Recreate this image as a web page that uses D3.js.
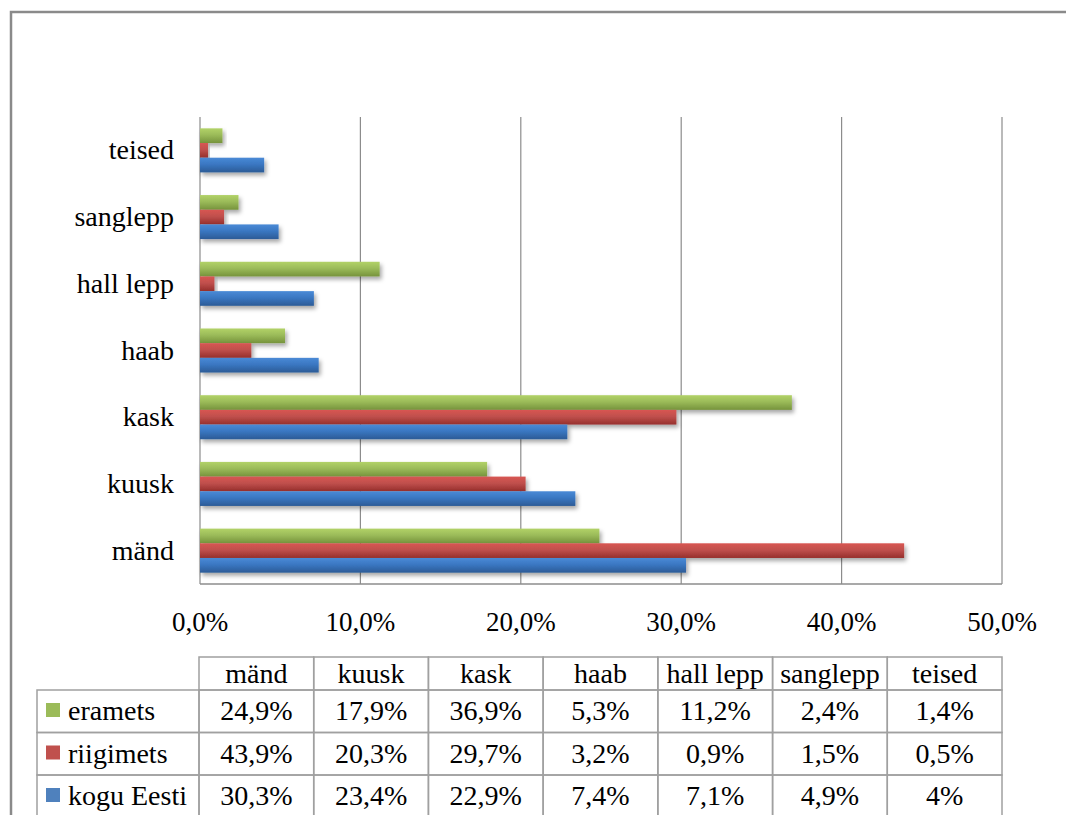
<!DOCTYPE html>
<html>
<head>
<meta charset="utf-8">
<script src="https://cdn.jsdelivr.net/npm/d3@7"></script>
<style>
  html, body { margin: 0; padding: 0; background: #fff; }
  svg { display: block; }
</style>
</head>
<body>
<svg id="chart" width="1066" height="815"></svg>
<script>
// ---- data ----
const categories = ["mänd", "kuusk", "kask", "haab", "hall lepp", "sanglepp", "teised"];
const seriesNames = ["eramets", "riigimets", "kogu Eesti"];
const eramets   = [24.9, 17.9, 36.9, 5.3, 11.2, 2.4, 1.4];
const riigimets = [43.9, 20.3, 29.7, 3.2, 0.9, 1.5, 0.5];
const koguEesti = [30.3, 23.4, 22.9, 7.4, 7.1, 4.9, 4.0];
const tableLabels = {
  "eramets":   ["24,9%", "17,9%", "36,9%", "5,3%", "11,2%", "2,4%", "1,4%"],
  "riigimets": ["43,9%", "20,3%", "29,7%", "3,2%", "0,9%", "1,5%", "0,5%"],
  "kogu Eesti":["30,3%", "23,4%", "22,9%", "7,4%", "7,1%", "4,9%", "4%"]
};
const xTicks = [0, 10, 20, 30, 40, 50];
const xTickLabels = ["0,0%", "10,0%", "20,0%", "30,0%", "40,0%", "50,0%"];

const seriesValues = { "eramets": eramets, "riigimets": riigimets, "kogu Eesti": koguEesti };
const colors = {
  "eramets":   ["#b2d268", "#9bbb59", "#76933c"],
  "riigimets": ["#d85552", "#c0504d", "#962f2c"],
  "kogu Eesti":["#4a8ad6", "#3a77c2", "#2c5b96"]
};
const swatch = { "eramets": "#9bbb59", "riigimets": "#c0504d", "kogu Eesti": "#4f81bd" };

const svg = d3.select("#chart");
const FONT = "Liberation Serif";

// outer chart border
svg.append("rect").attr("x", 11).attr("y", 12).attr("width", 1100).attr("height", 900)
  .attr("fill", "#fff").attr("stroke", "#8a8a8a").attr("stroke-width", 2.5);

// defs
const defs = svg.append("defs");
seriesNames.forEach((s, i) => {
  const g = defs.append("linearGradient").attr("id", "grad" + i)
    .attr("x1", 0).attr("y1", 0).attr("x2", 0).attr("y2", 1);
  g.append("stop").attr("offset", "0%").attr("stop-color", colors[s][0]);
  g.append("stop").attr("offset", "45%").attr("stop-color", colors[s][1]);
  g.append("stop").attr("offset", "100%").attr("stop-color", colors[s][2]);
});
const f = defs.append("filter").attr("id", "shadow").attr("x", "-10%").attr("y", "-30%").attr("width", "130%").attr("height", "190%");
f.append("feDropShadow").attr("dx", 2).attr("dy", 3).attr("stdDeviation", 2)
  .attr("flood-color", "#000").attr("flood-opacity", 0.35);

// scales
const plotL = 200, plotR = 1002, plotT = 117, plotB = 584;
const x = d3.scaleLinear().domain([0, 50]).range([plotL, plotR]);
const y = d3.scaleBand().domain(categories.slice().reverse()).range([plotT, plotB]).padding(0);
const inner = d3.scaleBand().domain(seriesNames)
  .range([y.bandwidth() * 0.17, y.bandwidth() * 0.83]).padding(0);

// gridlines
svg.append("g").selectAll("line").data(xTicks).join("line")
  .attr("x1", d => x(d)).attr("x2", d => x(d))
  .attr("y1", plotT).attr("y2", plotB)
  .attr("stroke", "#8c8c8c").attr("stroke-width", 1.2);

// axis line bottom
svg.append("line").attr("x1", plotL).attr("x2", plotR).attr("y1", plotB).attr("y2", plotB)
  .attr("stroke", "#8c8c8c").attr("stroke-width", 1.5);

// bars
const barsG = svg.append("g");
categories.forEach((c, ci) => {
  seriesNames.forEach((s, si) => {
    const v = seriesValues[s][ci];
    barsG.append("rect")
      .attr("x", x(0))
      .attr("y", y(c) + inner(s))
      .attr("width", x(v) - x(0))
      .attr("height", inner.bandwidth())
      .attr("fill", "url(#grad" + si + ")")
      .attr("filter", "url(#shadow)");
  });
});

function txt(g) { return g.append("text").attr("font-family", FONT).attr("fill", "#000"); }

// category labels
categories.forEach(c => {
  txt(svg).attr("x", 174).attr("y", y(c) + y.bandwidth() / 2 + 9)
    .attr("text-anchor", "end").attr("font-size", 28).text(c);
});

// x tick labels
xTicks.forEach((d, i) => {
  txt(svg).attr("x", x(d)).attr("y", 631)
    .attr("text-anchor", "middle").attr("font-size", 27).text(xTickLabels[i]);
});

// data table
const tblL = 37, colL = 199, colW = (plotR - colL) / categories.length;
const hdrT = 657, hdrB = 690, rowH = 42.5;
const tbl = svg.append("g");
const lineColor = "#a0a0a0";
categories.forEach((c, i) => {
  tbl.append("rect").attr("x", colL + i * colW).attr("y", hdrT).attr("width", colW).attr("height", hdrB - hdrT)
    .attr("fill", "none").attr("stroke", lineColor).attr("stroke-width", 1.5);
  txt(tbl).attr("x", colL + i * colW + colW / 2).attr("y", hdrB - 7)
    .attr("text-anchor", "middle").attr("font-size", 28).text(c);
});
seriesNames.forEach((s, r) => {
  const top = hdrB + r * rowH;
  tbl.append("rect").attr("x", tblL).attr("y", top).attr("width", colL - tblL).attr("height", rowH)
    .attr("fill", "none").attr("stroke", lineColor).attr("stroke-width", 1.5);
  tbl.append("rect").attr("x", 46).attr("y", top + 13).attr("width", 14).attr("height", 14)
    .attr("fill", swatch[s]);
  txt(tbl).attr("x", 68).attr("y", top + 30).attr("font-size", 28).text(s);
  categories.forEach((c, i) => {
    tbl.append("rect").attr("x", colL + i * colW).attr("y", top).attr("width", colW).attr("height", rowH)
      .attr("fill", "none").attr("stroke", lineColor).attr("stroke-width", 1.5);
    txt(tbl).attr("x", colL + i * colW + colW / 2).attr("y", top + 30)
      .attr("text-anchor", "middle").attr("font-size", 28).text(tableLabels[s][i]);
  });
});
</script>
</body>
</html>
